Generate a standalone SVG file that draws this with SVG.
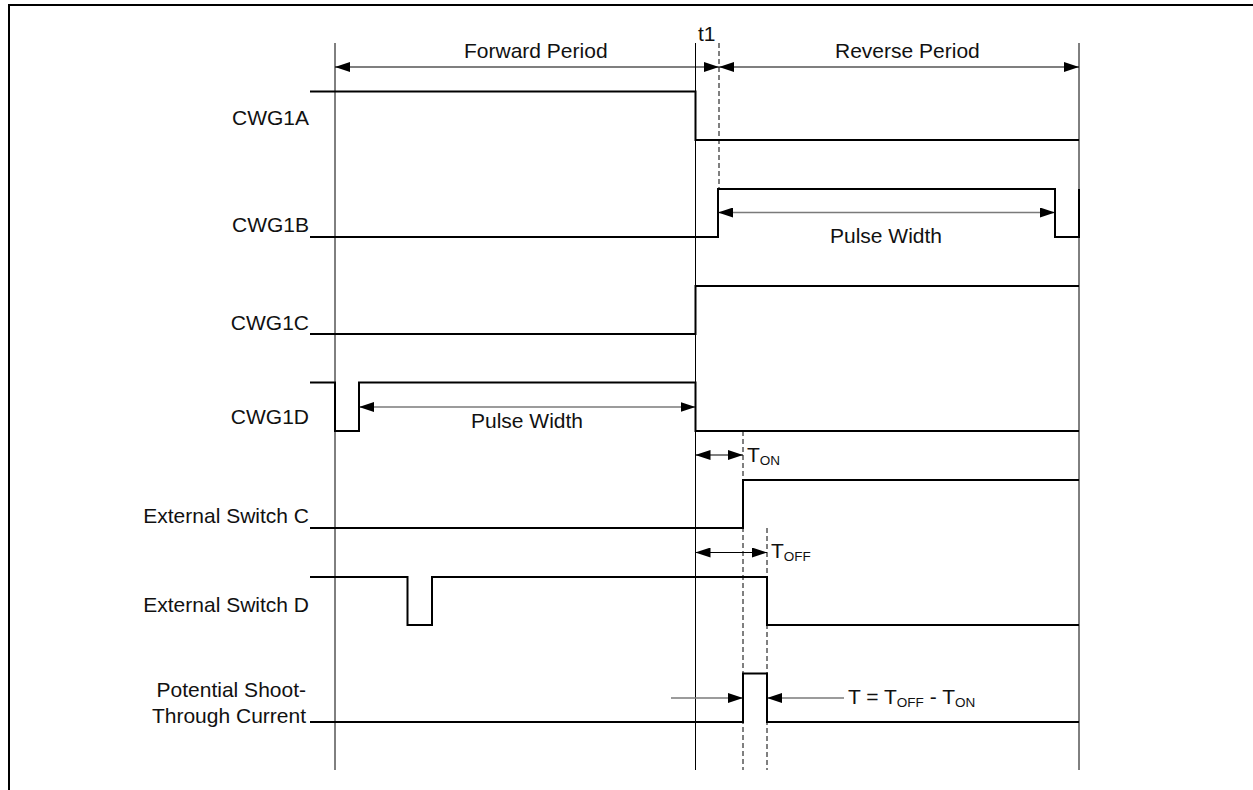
<svg xmlns="http://www.w3.org/2000/svg" width="1253" height="790" viewBox="0 0 1253 790">
<style>
text{font-family:"Liberation Sans",Arial,sans-serif;font-size:21px;fill:#111}
.lbl{text-anchor:end}
.sub{font-size:13.5px}
.sig{fill:none;stroke:#000;stroke-width:2}
.ref{fill:none;stroke:#000;stroke-width:1}
.dash{fill:none;stroke:#000;stroke-width:1;stroke-dasharray:5,3}
.arr{fill:none;stroke:#000;stroke-width:1.2;marker-start:url(#ah);marker-end:url(#ah)}
.garr{fill:none;stroke:#7a7a7a;stroke-width:1.5}
</style>
<defs>
<marker id="ah" markerUnits="userSpaceOnUse" markerWidth="15" markerHeight="10" refX="15" refY="5" orient="auto-start-reverse">
<path d="M0,0 L15,5 L0,10 z" fill="#000"/>
</marker>
</defs>
<rect width="1253" height="790" fill="#fff"/>
<path d="M9,800 V5 H1260" fill="none" stroke="#000" stroke-width="2"/>

<g id="reference-lines">
<path class="ref" d="M335,43 V770 M695.5,43 V770 M1079,43 V770"/>
<path class="dash" d="M719,43 V189 M743,431 V770 M767,528 V770"/>
</g>

<g id="connectors">
<path class="arr" d="M335,67 H719"/>
<path class="arr" d="M719,67 H1079"/>
<path class="garr" d="M718,212.5 H1055" marker-start="url(#ah)" marker-end="url(#ah)"/>
<path class="garr" d="M359,407 H695.5" marker-start="url(#ah)" marker-end="url(#ah)"/>
<path class="arr" d="M695.5,455 H743"/>
<path class="arr" d="M695.5,552.5 H767"/>
<path class="garr" d="M671,698 H743" marker-end="url(#ah)"/>
<path class="garr" d="M844,698 H767" marker-end="url(#ah)"/>
</g>

<g id="header">
<text x="464" y="58">Forward Period</text>
<text x="835" y="58">Reverse Period</text>
<text x="698" y="41">t1</text>
</g>

<g id="cwg1a">
<text class="lbl" x="309" y="125">CWG1A</text>
<path class="sig" d="M310,91.5 H695.5 V140 H1079"/>
</g>
<g id="cwg1b">
<text class="lbl" x="309" y="232">CWG1B</text>
<path class="sig" d="M310,237 H718 V189 H1055 V237 H1079 V189"/>
<text x="886" y="243" text-anchor="middle">Pulse Width</text>
</g>
<g id="cwg1c">
<text class="lbl" x="309" y="330">CWG1C</text>
<path class="sig" d="M310,334 H695.5 V286 H1079"/>
</g>
<g id="cwg1d">
<text class="lbl" x="309" y="424">CWG1D</text>
<path class="sig" d="M310,382.5 H335 V431 H359 V382.5 H695.5 V431 H1079"/>
<text x="527" y="428" text-anchor="middle">Pulse Width</text>
</g>
<g id="ton">
<text x="747" y="462">T<tspan class="sub" dy="2.5">ON</tspan></text>
</g>
<g id="ext-c">
<text class="lbl" x="309" y="523">External Switch C</text>
<path class="sig" d="M310,528 H743 V480 H1079"/>
</g>
<g id="toff">
<text x="771" y="558">T<tspan class="sub" dy="3">OFF</tspan></text>
</g>
<g id="ext-d">
<text class="lbl" x="309" y="612">External Switch D</text>
<path class="sig" d="M310,577 H407.5 V625 H432 V577 H767 V625 H1079"/>
</g>
<g id="shoot-through">
<text class="lbl" x="306" y="697">Potential Shoot-</text>
<text class="lbl" x="306" y="723">Through Current</text>
<path class="sig" d="M310,722 H743 V673.5 H767 V722 H1079"/>
<text x="848" y="704">T = T<tspan class="sub" dy="3">OFF</tspan><tspan dy="-3"> - T</tspan><tspan class="sub" dy="3">ON</tspan></text>
</g>
</svg>
